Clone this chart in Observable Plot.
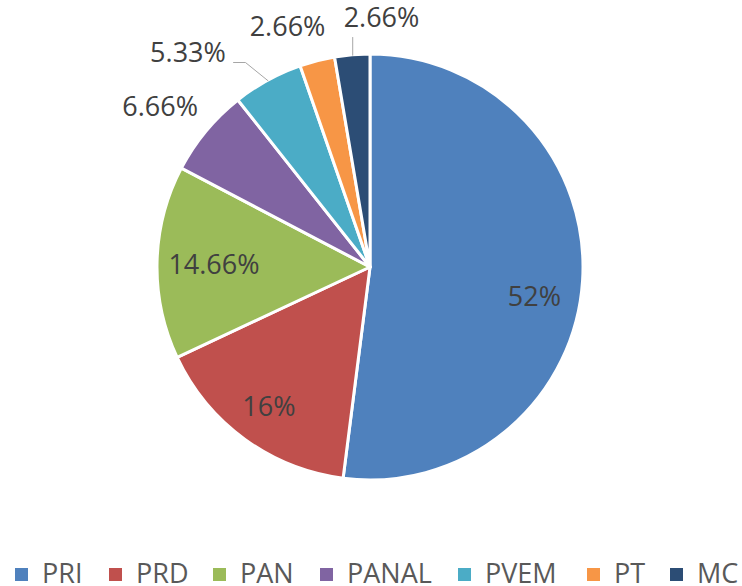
<!DOCTYPE html>
<html>
<head>
<meta charset="utf-8">
<script src="https://cdn.jsdelivr.net/npm/d3@7"></script>
<script src="https://cdn.jsdelivr.net/npm/@observablehq/plot@0.6"></script>
<style>
  html, body { margin: 0; padding: 0; background: #fff; }
  #wrap { position: relative; width: 742px; height: 586px; overflow: hidden; font-family: "Open Sans", sans-serif; }
  .sw { position: absolute; top: 568px; width: 13px; height: 13px; }
  .lt { position: absolute; top: 559px; font-size: 27px; line-height: 27px; color: #595959; white-space: nowrap; }
</style>
</head>
<body>
<div id="wrap"></div>
<script>
// ---- data ----
const parties = ["PRI", "PRD", "PAN", "PANAL", "PVEM", "PT", "MC"];
const shares = [52, 16, 14.66, 6.66, 5.33, 2.66, 2.66];
const labels = ["52%", "16%", "14.66%", "6.66%", "5.33%", "2.66%", "2.66%"];
const colors = ["#4F81BD", "#C0504D", "#9BBB59", "#8064A2", "#4BACC6", "#F79646", "#2C4D75"];

// ---- layout (label placement, not data) ----
const labelRadius = [0.782, 0.812, 0.735, 1.241, 1.322, 1.194, 1.170];
const labelShiftDeg = [6.57, -0.1, -0.37, -2.41, -11.65, -4.67, 7.32];
const legendX = [15, 109, 213, 320, 458, 587, 670];

const rows = parties.map((p, i) => ({party: p, share: shares[i], label: labels[i], color: colors[i]}));
const arcs = d3.pie().sort(null).value(d => d.share)(rows);
const mid = a => (a.startAngle + a.endAngle) / 2;

const labelRows = arcs.map((a, i) => {
  const ang = mid(a) + labelShiftDeg[i] * Math.PI / 180;
  return {x: labelRadius[i] * Math.sin(ang), y: labelRadius[i] * Math.cos(ang), text: a.data.label};
});

// leader lines: from slice rim (mid angle) toward the label
const rim = i => ({x: Math.sin(mid(arcs[i])), y: Math.cos(mid(arcs[i]))});
const leaderRows = [];
{
  const r4 = rim(4);
  leaderRows.push({k: "PVEM", x: r4.x, y: r4.y}, {k: "PVEM", x: -0.587, y: 0.9624}, {k: "PVEM", x: -0.643, y: 0.9624});
  const r6 = rim(6);
  leaderRows.push({k: "MC", x: r6.x, y: r6.y}, {k: "MC", x: r6.x, y: 1.08});
}

function pieMark(index, scales, values, dimensions, context) {
  const cx = scales.x(0), cy = scales.y(0), r = scales.x(1) - scales.x(0);
  const arc = d3.arc().innerRadius(0).outerRadius(r);
  const g = d3.create("svg:g").attr("transform", `translate(${cx},${cy})`);
  g.selectAll("path").data(arcs).join("path")
    .attr("d", arc)
    .attr("fill", d => d.data.color)
    .attr("stroke", "#fff")
    .attr("stroke-width", 3)
    .attr("stroke-linejoin", "round");
  return g.node();
}

const W = 742, H = 550, R = 213, CX = 370, CY = 267;
const chart = Plot.plot({
  width: W,
  height: H,
  margin: 0,
  style: {fontFamily: "Open Sans, sans-serif", background: "#fff", overflow: "visible"},
  x: {domain: [-CX / R, (W - CX) / R], range: [0, W], axis: null},
  y: {domain: [(CY - H) / R, CY / R], range: [H, 0], axis: null},
  marks: [
    pieMark,
    Plot.line(leaderRows, {x: "x", y: "y", z: "k", stroke: "#A6A6A6", strokeWidth: 1}),
    Plot.text(labelRows, {x: "x", y: "y", text: "text", fontSize: 27, fill: "#404040", fontFamily: "Open Sans"})
  ]
});

const wrap = document.getElementById("wrap");
wrap.appendChild(chart);
parties.forEach((p, i) => {
  const sw = document.createElement("div");
  sw.className = "sw";
  sw.style.left = legendX[i] + "px";
  sw.style.background = colors[i];
  wrap.appendChild(sw);
  const t = document.createElement("div");
  t.className = "lt";
  t.style.left = (legendX[i] + 27) + "px";
  t.textContent = p;
  wrap.appendChild(t);
});
</script>
</body>
</html>
